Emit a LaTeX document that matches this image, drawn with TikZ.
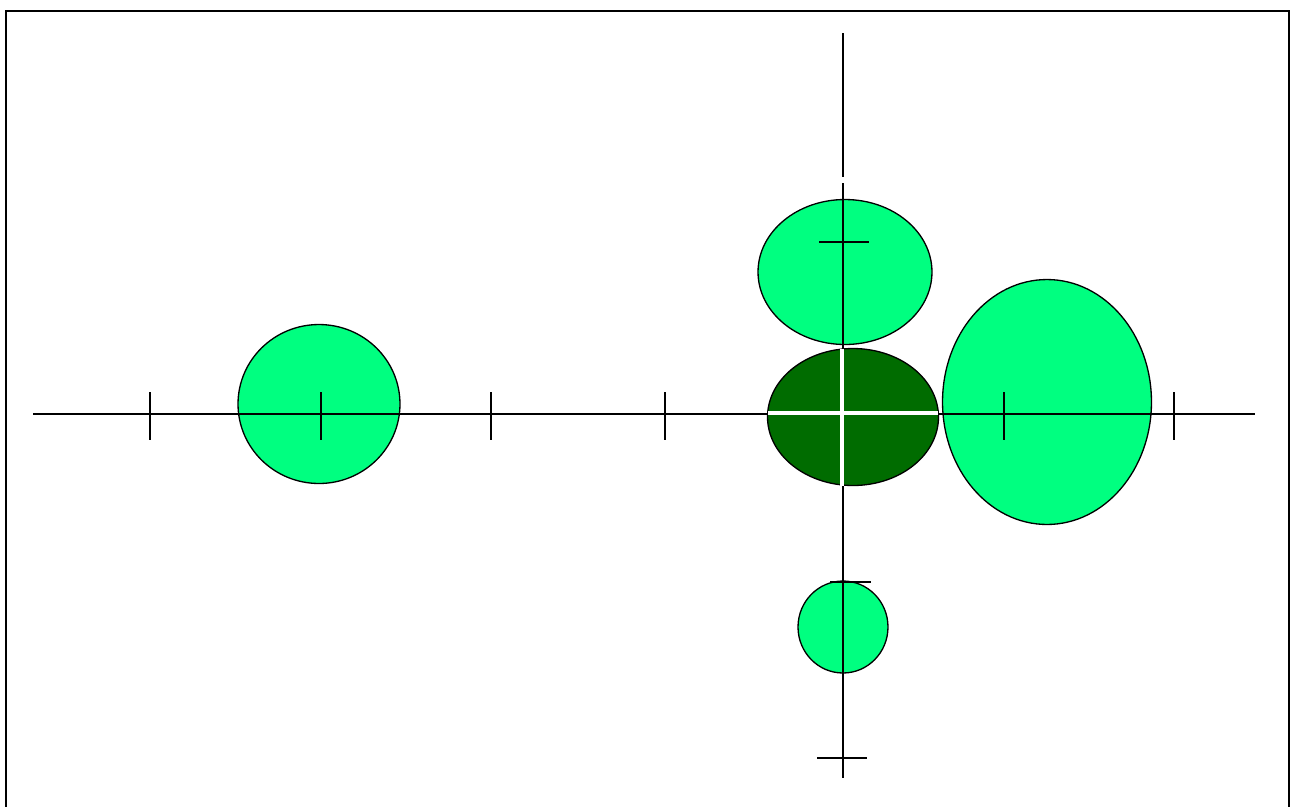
\documentclass[tikz,border=0pt]{standalone}
\usetikzlibrary{shapes.geometric}
\definecolor{lightgreen}{RGB}{0,255,128}
\definecolor{darkgreen}{RGB}{0,108,0}

\begin{document}
\begin{tikzpicture}[x=0.02cm, y=-0.02cm,
    blob/.style={ellipse, draw, fill=lightgreen, line width=0.75pt, inner sep=0pt, outer sep=0pt},
    core/.style={blob, fill=darkgreen},
    axis/.style={line width=1.1pt},
    tick/.style={line width=1.1pt},
    gapline/.style={white, line width=2.6pt}
]
\useasboundingbox (0,0) rectangle (1292,806);

% Frame
\draw[line width=1.2pt] (6,830) -- (6,11) -- (1289,11) -- (1289,830);

% Lobes
\node[blob, minimum width=3.24cm, minimum height=3.18cm] (left) at (319,404) {};
\node[blob, minimum width=3.48cm, minimum height=2.9cm] (top) at (845,272) {};
\node[blob, minimum width=4.18cm, minimum height=4.9cm] (right) at (1047,402) {};
\node[blob, minimum width=1.8cm, minimum height=1.84cm] (bottom) at (843,627) {};

% Axes
\coordinate (xa) at (33,414);
\coordinate (xb) at (1255,414);
\coordinate (ya) at (843,33);
\coordinate (yg1) at (843,177);
\coordinate (yg2) at (843,183);
\coordinate (yb) at (843,778);
\draw[axis] (xa) -- (xb);
\draw[axis] (ya) -- (yg1);
\draw[axis] (yg2) -- (yb);

% Ticks
\foreach \tx in {150,321,491,665,1004,1174}
    \draw[tick] (\tx,392) -- (\tx,440);
\draw[tick] (819,242) -- (869,242);
\draw[tick] (830,582) -- (871,582);
\draw[tick] (817,758) -- (867,758);

% Central lobe
\node[core, minimum width=3.42cm, minimum height=2.74cm] (center) at (853,417) {};
\draw[gapline] (842,349) -- (842,486);
\draw[gapline] (center.west |- 0,413) -- (center.east |- 0,413);

\end{tikzpicture}
\end{document}
